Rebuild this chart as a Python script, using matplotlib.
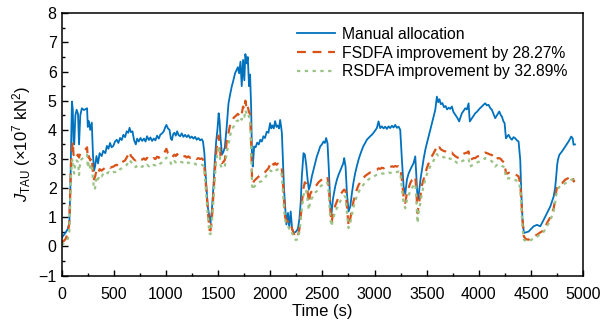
import matplotlib
matplotlib.use("Agg")
import matplotlib.pyplot as plt
from matplotlib.ticker import MultipleLocator

plt.rcParams['font.family'] = ['Liberation Sans', 'DejaVu Sans']
plt.rcParams['mathtext.fontset'] = 'custom'
plt.rcParams['mathtext.rm'] = 'Liberation Sans'
plt.rcParams['mathtext.it'] = 'Liberation Sans:italic'

# time (s)
time_s = [0, 20, 40, 60, 75, 85, 92, 100, 108, 115, 122, 133, 145, 158, 168, 180,
          195, 215, 235, 245, 252, 262, 275, 290, 302, 312, 322, 335, 350, 365,
          385, 400, 420, 435, 450, 465, 480, 497, 513, 529, 545, 561, 577, 593,
          609, 625, 640, 652, 665, 680, 695, 712, 725, 740, 757, 773, 790, 805,
          820, 837, 852, 868, 884, 900, 916, 932, 948, 964, 980, 995, 1005, 1020,
          1035, 1048, 1058, 1070, 1082, 1095, 1108, 1122, 1137, 1152, 1168, 1184,
          1200, 1216, 1232, 1248, 1264, 1280, 1296, 1312, 1328, 1344, 1356, 1369,
          1382, 1401, 1417, 1428, 1440, 1456, 1470, 1482, 1494, 1506, 1515, 1524,
          1538, 1552, 1565, 1583, 1600, 1615, 1631, 1647, 1663, 1677, 1690, 1702,
          1715, 1727, 1740, 1752, 1762, 1775, 1785, 1797, 1807, 1817, 1826, 1833,
          1846, 1860, 1875, 1890, 1905, 1920, 1935, 1950, 1967, 1983, 1999, 2010,
          2021, 2034, 2047, 2060, 2072, 2085, 2095, 2105, 2112, 2122, 2132, 2143,
          2155, 2170, 2182, 2196, 2210, 2225, 2245, 2265, 2280, 2292, 2303, 2319,
          2332, 2345, 2358, 2370, 2383, 2399, 2415, 2431, 2447, 2463, 2479, 2495,
          2511, 2524, 2536, 2549, 2562, 2575, 2588, 2600, 2623, 2640, 2655, 2671,
          2687, 2700, 2709, 2722, 2735, 2751, 2767, 2783, 2798, 2814, 2830, 2846,
          2862, 2878, 2894, 2910, 2926, 2942, 2958, 2974, 2990, 3006, 3022, 3038,
          3054, 3070, 3086, 3102, 3118, 3134, 3150, 3166, 3182, 3198, 3214, 3230,
          3246, 3262, 3278, 3294, 3310, 3326, 3342, 3358, 3374, 3390, 3399, 3412,
          3425, 3440, 3454, 3470, 3486, 3502, 3518, 3534, 3550, 3566, 3582, 3597,
          3610, 3622, 3635, 3650, 3665, 3680, 3695, 3710, 3725, 3741, 3755, 3766,
          3780, 3795, 3811, 3825, 3837, 3853, 3869, 3885, 3901, 3908, 3913, 3933,
          3950, 3965, 3981, 3997, 4012, 4028, 4044, 4060, 4076, 4092, 4108, 4124,
          4140, 4156, 4175, 4195, 4210, 4220, 4234, 4246, 4259, 4272, 4284, 4300,
          4316, 4332, 4348, 4364, 4380, 4396, 4406, 4418, 4431, 4450, 4476, 4500,
          4524, 4556, 4588, 4620, 4652, 4684, 4716, 4730, 4738, 4750, 4757, 4770,
          4796, 4827, 4859, 4885, 4898, 4907, 4920]

manual = [0.30, 0.38, 0.48, 0.60, 0.80, 2.00, 3.50, 4.97, 4.70, 3.60, 3.50, 4.50, 4.69, 4.55, 3.50, 4.50,
          4.74, 4.68, 4.72, 4.74, 4.10, 4.30, 4.00, 4.25, 3.10, 2.60, 2.75, 3.10, 2.85, 3.20,
          3.10, 3.28, 3.20, 3.45, 3.35, 3.55, 3.40, 3.45, 3.60, 3.66, 3.55, 3.72, 3.65, 3.83,
          3.75, 3.95, 3.90, 4.07, 3.92, 3.95, 3.65, 3.50, 3.70, 3.60, 3.72, 3.62, 3.70, 3.60,
          3.78, 3.65, 3.74, 3.62, 3.70, 3.64, 3.80, 3.70, 3.84, 3.88, 3.95, 4.10, 4.17, 4.05,
          4.00, 3.70, 3.65, 3.85, 3.90, 3.80, 3.95, 3.82, 3.78, 3.88, 3.76, 3.83,
          3.75, 3.82, 3.72, 3.77, 3.70, 3.76, 3.66, 3.72, 3.64, 3.68, 3.60, 3.20,
          2.40, 1.37, 1.03, 0.80, 1.20, 2.06, 3.00, 3.60, 4.00, 4.57, 4.30, 3.70,
          3.15, 3.25, 3.40, 4.11, 4.90, 5.20, 5.48, 5.70, 5.94, 6.05, 6.15, 5.94,
          6.34, 5.50, 6.40, 5.70, 6.60, 6.28, 6.50, 5.50, 5.90, 4.80, 3.00, 2.74,
          3.43, 3.40, 3.56, 3.50, 3.66, 3.60, 3.78, 3.72, 3.94, 3.90, 4.23, 4.05,
          4.15, 4.05, 4.30, 4.10, 4.15, 4.05, 4.34, 4.10, 3.88, 2.90, 2.00, 1.37,
          0.75, 1.15, 0.65, 1.20, 0.60, 0.46, 0.50, 0.60, 0.95, 1.50, 2.40, 3.20,
          3.15, 2.80, 2.30, 1.95, 2.10, 2.40, 2.63, 2.85, 3.09, 3.25, 3.43, 3.50,
          3.60, 3.55, 3.72, 3.54, 2.63, 1.49, 1.14, 1.60, 2.06, 2.30, 2.46, 2.60,
          2.74, 2.85, 3.03, 2.74, 1.83, 1.20, 1.37, 1.83, 2.20, 2.51, 2.75, 2.97,
          3.15, 3.31, 3.45, 3.55, 3.66, 3.72, 3.78, 3.83, 3.90, 3.98, 4.06, 4.29,
          4.06, 4.12, 4.05, 4.11, 4.03, 4.12, 4.06, 4.14, 4.08, 4.17, 4.07, 4.11,
          4.00, 2.97, 2.06, 1.80, 2.29, 2.50, 2.63, 2.75, 2.86, 3.09, 2.51, 1.60,
          1.83, 2.30, 2.63, 3.00, 3.31, 3.55, 3.77, 4.00, 4.23, 4.45, 4.69, 5.14,
          4.95, 5.05, 4.88, 4.92, 4.78, 4.82, 4.70, 4.76, 4.72, 4.80, 4.62, 4.56,
          4.48, 4.40, 4.29, 4.45, 4.57, 4.65, 4.74, 4.70, 4.91, 4.50, 4.29, 4.40,
          4.50, 4.57, 4.62, 4.69, 4.75, 4.80, 4.86, 4.91, 4.84, 4.86, 4.75, 4.69,
          4.55, 4.40, 4.51, 4.63, 4.50, 4.46, 4.30, 4.23, 3.71, 3.78, 3.83, 3.72,
          3.66, 3.75, 3.71, 3.64, 3.60, 2.97, 1.83, 0.91, 0.46, 0.48, 0.51, 0.60,
          0.69, 0.74, 0.69, 0.91, 1.14, 1.37, 1.71, 2.00, 2.29, 2.80, 2.97, 3.14,
          3.26, 3.43, 3.60, 3.77, 3.71, 3.49, 3.50]

fsdfa = [0.15, 0.18, 0.26, 0.45, 0.80, 2.00, 2.90, 3.30, 3.60, 3.15, 3.10, 3.20, 3.10, 3.15, 3.05, 3.20,
         3.25, 3.30, 3.35, 3.40, 3.00, 3.10, 2.95, 3.05, 2.50, 2.30, 2.40, 2.60, 2.50, 2.65,
         2.60, 2.65, 2.70, 2.70, 2.75, 2.70, 2.72, 2.74, 2.78, 2.80, 2.75, 2.85, 2.88, 2.92,
         2.95, 3.05, 3.15, 3.25, 3.10, 3.05, 2.98, 2.95, 3.00, 2.96, 3.00, 2.98, 3.02, 2.97,
         3.04, 3.00, 3.03, 2.98, 3.03, 3.00, 3.08, 3.04, 3.10, 3.12, 3.18, 3.28, 3.35, 3.20,
         3.15, 3.08, 3.05, 3.10, 3.15, 3.10, 3.17, 3.12, 3.10, 3.14, 3.08, 3.10,
         3.05, 3.09, 3.04, 3.06, 3.02, 3.05, 3.00, 3.03, 3.00, 3.02, 2.98, 2.74,
         2.20, 1.30, 0.57, 0.55, 0.90, 1.83, 2.60, 3.20, 3.60, 3.80, 3.50, 3.10,
         2.86, 2.90, 2.97, 3.60, 3.90, 4.15, 4.30, 4.40, 4.46, 4.50, 4.55, 4.50,
         4.62, 4.55, 4.80, 4.70, 5.00, 4.70, 4.80, 4.60, 4.55, 3.60, 2.30, 2.17,
         2.25, 2.30, 2.35, 2.40, 2.44, 2.45, 2.52, 2.55, 2.62, 2.68, 2.82, 2.75,
         2.85, 2.80, 2.86, 2.80, 2.84, 2.80, 2.82, 2.75, 2.63, 2.20, 1.60, 1.00,
         0.90, 0.85, 0.75, 0.78, 0.60, 0.45, 0.30, 0.35, 0.60, 1.00, 1.50, 2.00,
         2.20, 2.15, 1.90, 1.50, 1.80, 1.90, 1.98, 2.05, 2.12, 2.20, 2.25, 2.30,
         2.35, 2.38, 2.40, 2.38, 2.00, 1.30, 0.80, 1.10, 1.40, 1.55, 1.70, 1.78,
         1.85, 1.92, 1.95, 1.90, 1.40, 0.70, 0.95, 1.25, 1.55, 1.75, 1.95, 2.10,
         2.20, 2.29, 2.35, 2.42, 2.46, 2.50, 2.54, 2.56, 2.60, 2.62, 2.63, 2.68,
         2.66, 2.70, 2.68, 2.72, 2.70, 2.74, 2.72, 2.75, 2.73, 2.76, 2.74, 2.75,
         2.70, 2.29, 1.71, 1.49, 1.83, 2.00, 2.17, 2.28, 2.35, 2.40, 2.00, 1.14,
         1.50, 1.75, 2.10, 2.30, 2.51, 2.70, 2.85, 2.97, 3.10, 3.20, 3.31, 3.45,
         3.37, 3.40, 3.33, 3.30, 3.27, 3.26, 3.22, 3.24, 3.20, 3.22, 3.15, 3.12,
         3.08, 3.05, 3.03, 3.10, 3.15, 3.18, 3.20, 3.22, 3.26, 3.10, 2.97, 3.00,
         3.03, 3.03, 3.08, 3.10, 3.12, 3.14, 3.18, 3.22, 3.20, 3.18, 3.15, 3.14,
         3.08, 2.97, 3.02, 3.03, 3.00, 2.95, 2.90, 2.86, 2.51, 2.50, 2.53, 2.50,
         2.48, 2.50, 2.46, 2.44, 2.40, 2.17, 1.60, 0.90, 0.34, 0.25, 0.23, 0.30,
         0.34, 0.40, 0.48, 0.55, 0.80, 1.00, 1.30, 1.60, 1.83, 2.06, 2.10, 2.15,
         2.17, 2.29, 2.35, 2.40, 2.42, 2.23, 2.25]

rsdfa = [0.05, 0.10, 0.15, 0.25, 0.50, 1.60, 2.50, 2.90, 3.00, 2.60, 2.50, 2.90, 2.95, 2.90, 2.45, 2.95,
         3.00, 3.05, 3.10, 3.15, 2.70, 2.90, 2.70, 2.80, 2.30, 1.95, 2.00, 2.40, 2.30, 2.45,
         2.40, 2.50, 2.45, 2.50, 2.55, 2.50, 2.52, 2.55, 2.55, 2.60, 2.58, 2.65, 2.68, 2.72,
         2.75, 2.80, 2.90, 2.97, 2.90, 2.85, 2.75, 2.72, 2.78, 2.74, 2.76, 2.73, 2.78, 2.74,
         2.80, 2.75, 2.80, 2.76, 2.80, 2.78, 2.83, 2.80, 2.85, 2.88, 2.92, 3.00, 3.05, 2.98,
         2.95, 2.85, 2.80, 2.90, 2.93, 2.88, 2.92, 2.90, 2.88, 2.90, 2.86, 2.90,
         2.86, 2.88, 2.84, 2.85, 2.82, 2.84, 2.80, 2.80, 2.78, 2.80, 2.78, 2.60,
         2.00, 1.10, 0.46, 0.42, 0.80, 1.60, 2.40, 2.95, 3.20, 3.45, 3.20, 2.80,
         2.68, 2.72, 2.74, 3.20, 3.50, 3.80, 4.00, 4.10, 4.20, 4.30, 4.32, 4.28,
         4.40, 4.35, 4.50, 4.45, 4.68, 4.55, 4.60, 4.45, 4.35, 3.40, 2.10, 1.94,
         2.05, 2.10, 2.15, 2.20, 2.22, 2.25, 2.32, 2.36, 2.44, 2.50, 2.60, 2.58,
         2.62, 2.60, 2.65, 2.62, 2.64, 2.60, 2.60, 2.55, 2.40, 1.90, 1.30, 0.90,
         0.75, 0.70, 0.60, 0.60, 0.45, 0.30, 0.22, 0.25, 0.50, 0.90, 1.30, 1.75,
         1.95, 1.90, 1.60, 1.25, 1.55, 1.65, 1.75, 1.85, 1.90, 1.98, 2.05, 2.10,
         2.15, 2.17, 2.20, 2.18, 1.80, 1.00, 0.69, 0.90, 1.20, 1.32, 1.45, 1.55,
         1.62, 1.70, 1.72, 1.70, 1.15, 0.63, 0.80, 1.10, 1.35, 1.55, 1.72, 1.85,
         1.97, 2.05, 2.12, 2.20, 2.25, 2.30, 2.34, 2.38, 2.40, 2.43, 2.46, 2.48,
         2.47, 2.50, 2.50, 2.52, 2.50, 2.53, 2.52, 2.55, 2.54, 2.56, 2.55, 2.57,
         2.55, 2.00, 1.50, 1.31, 1.60, 1.75, 1.90, 2.00, 2.10, 2.15, 1.70, 0.80,
         1.25, 1.50, 1.85, 2.05, 2.30, 2.48, 2.62, 2.75, 2.85, 2.95, 3.05, 3.17,
         3.12, 3.14, 3.10, 3.08, 3.05, 3.08, 3.02, 3.04, 3.00, 3.02, 2.96, 2.92,
         2.90, 2.86, 2.85, 2.90, 2.92, 2.95, 2.98, 2.98, 3.00, 2.88, 2.74, 2.78,
         2.82, 2.84, 2.88, 2.90, 2.93, 2.95, 2.98, 3.03, 3.00, 2.98, 2.96, 2.92,
         2.86, 2.74, 2.80, 2.82, 2.80, 2.76, 2.74, 2.70, 2.34, 2.33, 2.35, 2.32,
         2.30, 2.30, 2.28, 2.25, 2.23, 2.00, 1.40, 0.60, 0.23, 0.18, 0.17, 0.22,
         0.28, 0.33, 0.42, 0.50, 0.69, 0.90, 1.20, 1.49, 1.70, 1.94, 1.98, 2.04,
         2.06, 2.17, 2.23, 2.29, 2.30, 2.20, 2.20]

labels = ['Manual allocation', 'FSDFA improvement by 28.27%', 'RSDFA improvement by 32.89%']

fig = plt.figure(figsize=(6.06, 3.32), dpi=100)
ax = fig.add_axes([0.1015, 0.17, 0.861, 0.79])

ax.plot(time_s, manual, color='#0072BD', lw=1.3, label=labels[0])
ax.plot(time_s, fsdfa, color='#D95319', lw=1.6, dashes=(4, 3), label=labels[1])
ax.plot(time_s, rsdfa, color='#9CC386', lw=1.6, dashes=(1.5, 2), label=labels[2])

ax.set_xlim(0, 5000)
ax.set_ylim(-1, 8)
ax.xaxis.set_major_locator(MultipleLocator(500))
ax.xaxis.set_minor_locator(MultipleLocator(250))
ax.yaxis.set_major_locator(MultipleLocator(1))
ax.yaxis.set_minor_locator(MultipleLocator(0.5))
ax.tick_params(which='both', direction='in', labelsize=11.5)
ax.tick_params(which='major', length=4, width=1)
ax.tick_params(which='minor', length=2, width=1)
ax.tick_params(axis='x', which='major', pad=8)
ax.set_yticks(range(-1, 9))
ax.set_yticklabels(['\u22121'] + [str(i) for i in range(0, 9)])
for s in ax.spines.values():
    s.set_linewidth(1.1)

ax.set_xlabel('Time (s)', fontsize=12, labelpad=2)
ax.set_ylabel(r'$J_{\rm TAU}$ (×10$^{7}$ kN$^{2}$)', fontsize=12, labelpad=4)

ax.legend(loc='upper right', frameon=False, fontsize=11.3, handlelength=2.4,
          handletextpad=0.45, labelspacing=0.24, borderaxespad=0.3,
          bbox_to_anchor=(0.99, 0.99))

plt.savefig('out.png', dpi=100)
